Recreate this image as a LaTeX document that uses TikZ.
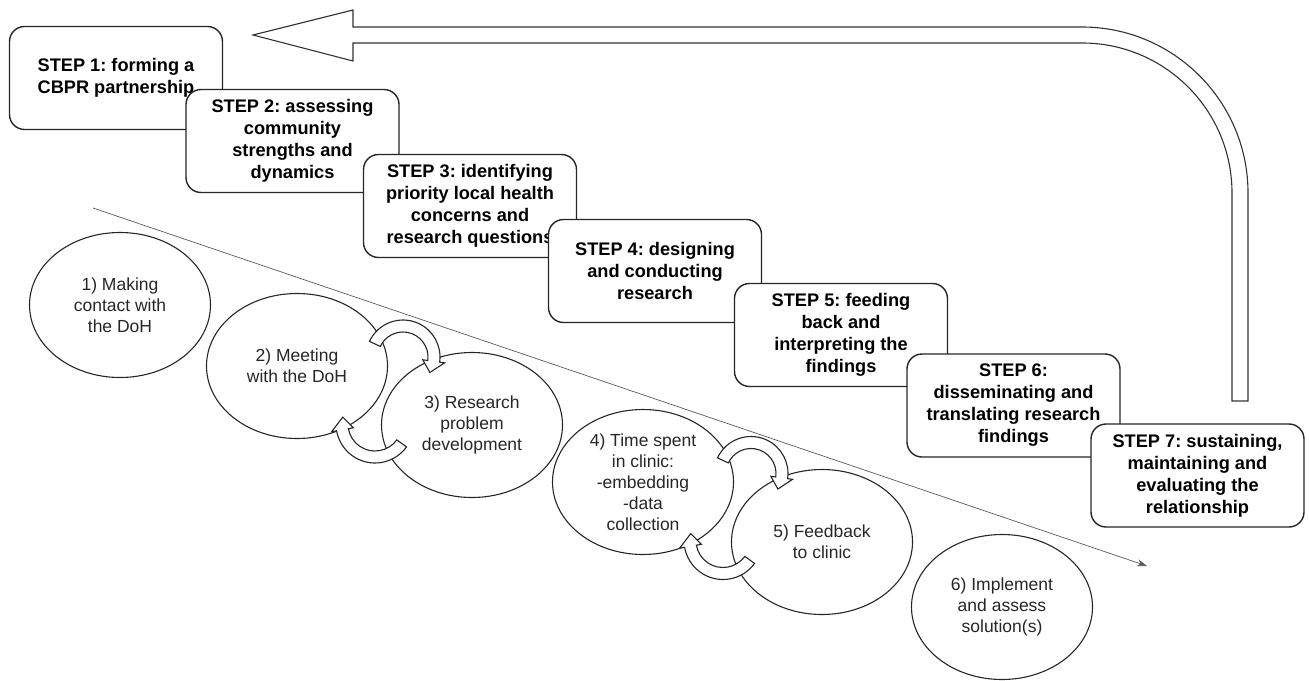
\documentclass[tikz,border=0pt]{standalone}
\usepackage{fontspec}
\setmainfont{Liberation Sans}
\usetikzlibrary{arrows.meta,calc,shapes.geometric}
\frenchspacing
\tikzset{
 stepbox/.style={draw=black!85, line width=1.4pt, rounded corners=15pt, fill=white,
   minimum width=213pt, minimum height=103pt, align=center, inner sep=0pt,
   font=\fontsize{18.2}{22}\selectfont\bfseries},
 phase/.style={draw=black!85, line width=1.1pt, ellipse, minimum width=181pt,
   minimum height=145pt, align=center, inner sep=0pt, text=black!85,
   font=\fontsize{17.5}{21}\selectfont},
 cycarrow/.style={draw=black!85, line width=1.1pt, fill=white},
 bigarrow/.style={draw=black!80, line width=1.1pt, fill=white},
 flow/.style={draw=black!65, line width=0.7pt, -{Stealth[length=10pt,width=7pt]}}
}
% block arc arrow: centre shift, mid radius, tail angle, head-base angle, tip angle
\newcommand\cyclearrow[5]{%
 \pgfmathsetmacro\cRo{#2+6}\pgfmathsetmacro\cRi{#2-6}%
 \pgfmathsetmacro\cHo{#2+11}\pgfmathsetmacro\cHi{#2-11}%
 \begin{scope}[shift={#1}]
  \draw[cycarrow] (#3:\cRo) arc[start angle=#3, end angle=#4, radius=\cRo]
    -- (#4:\cHo) -- (#5:#2) -- (#4:\cHi) -- (#4:\cRi)
    arc[start angle=#4, end angle=#3, radius=\cRi] -- cycle;
 \end{scope}}
\newcommand\arrowpair[2]{%
 \cyclearrow{($(#1)!0.5!(#2)+(18.5,-38.5)$)}{31}{-155}{8}{30}%
 \cyclearrow{($(#1)!0.5!(#2)+(-9.5,28.5)$)}{33}{36}{170}{192}}
\begin{document}
\begin{tikzpicture}[x=1pt,y=-1pt]
\useasboundingbox (0,0) rectangle (1309,680);
% big return arrow
\draw[bigarrow] (1232,401) -- (1232,193) arc[start angle=0,end angle=-90,radius=150]
  -- (353,43) -- (353,61) -- (253,35) -- (353,10) -- (353,27) -- (1082,27)
  arc[start angle=-90,end angle=0,radius=166] -- (1248,401) -- cycle;
% steps
\node[stepbox] (s1) at (116,78) {STEP 1: forming a\\CBPR partnership};
\node[stepbox] (s2) at (292.5,141) {STEP 2: assessing\\community\\strengths and\\dynamics};
\node[stepbox] (s3) at (470,206) {STEP 3: identifying\\priority local health\\concerns and\\research questions};
\node[stepbox] (s4) at (655,271) {STEP 4: designing\\and conducting\\research};
\node[stepbox] (s5) at (841,335) {STEP 5: feeding\\back and\\interpreting the\\findings};
\node[stepbox] (s6) at (1013.5,405.5) {STEP 6:\\disseminating and\\translating research\\findings};
\node[stepbox] (s7) at (1197.5,475.5) {STEP 7: sustaining,\\maintaining and\\evaluating the\\relationship};
% diagonal time line
\coordinate (tl0) at (93,208);
\coordinate (tl1) at (1147,566);
\draw[flow] (tl0) -- (tl1);
% phases
\node[phase] (e1) at (120,305) {1) Making\\contact with\\the DoH};
\node[phase] (e2) at (297,366) {2) Meeting\\with the DoH};
\node[phase] (e3) at (472,425) {3) Research\\problem\\development};
\node[phase] (e4) at (643,482) {4) Time spent\\in clinic:\\-embedding\\-data\\collection};
\node[phase] (e5) at (822,542) {5) Feedback\\to clinic};
\node[phase] (e6) at (1002,607) {6) Implement\\and assess\\solution(s)};
% cycle arrows
\arrowpair{e2}{e3}
\arrowpair{e4}{e5}
\end{tikzpicture}
\end{document}
